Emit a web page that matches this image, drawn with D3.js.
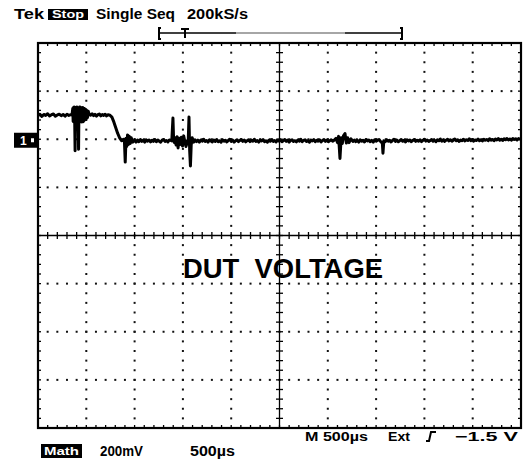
<!DOCTYPE html>
<html>
<head>
<meta charset="utf-8">
<script src="https://cdn.jsdelivr.net/npm/d3@7"></script>
<style>
  html, body { margin: 0; padding: 0; background: #fff; }
  svg { display: block; }
  text { font-family: "Liberation Sans", Arial, sans-serif; }
</style>
</head>
<body>
<svg id="scope"></svg>
<script>
// screen setup: 500 us/div horizontally, 200 mV/div vertically
const timeDomainUs = [0, 5000];
const voltDomainMv = [-1200, 400];
const majorTimeStep = 500, minorTimeStep = 100;
const majorVoltStep = 200, minorVoltStep = 40;

// captured trace, [time us, mV]
const trace = [
  [0,98],[20,104],[40,95],[60,103],[80,99],[100,106],[120,97],[140,102],[160,105],[180,96],[200,101],[220,104],[240,98],
  [260,103],[280,96],[300,104],[320,99],[340,102],[352,100],
  [360,128],[364,74],[368,132],[372,72],[376,134],[380,76],[384,-48],[388,118],[392,70],[396,133],[400,74],[404,134],
  [408,71],[412,130],[416,75],[420,-42],[424,131],[428,72],[432,134],[436,73],[440,133],[444,76],[448,131],[452,72],
  [456,130],[460,74],[464,132],[468,73],[472,129],[476,77],[480,128],[484,80],[488,126],[492,82],[496,124],[500,86],
  [506,120],[512,90],[520,116],[530,104],[545,100],
  [560,106],[575,98],[590,104],[605,96],[620,102],[635,105],[650,97],[665,103],[680,99],[695,104],[710,97],[725,102],[745,100],
  [765,92],[785,72],[805,48],[825,24],[845,6],[865,-6],[885,0],
  [895,-12],[903,-95],[911,4],[919,-30],[927,18],[935,-22],[945,12],[955,-18],[965,6],[980,-12],[1000,-4],
  [1015,-12],[1030,-3],[1045,-10],[1060,-1],[1075,-9],[1090,-4],[1105,-12],[1120,-2],[1135,-8],[1150,-3],[1165,-11],[1180,-4],
  [1195,-9],[1210,-1],[1225,-10],[1240,-3],[1255,-8],[1270,-12],[1285,-4],[1300,-1],[1315,-9],[1330,-5],[1345,-11],[1360,-3],[1385,-7],
  [1397,88],[1404,-4],[1412,-14],[1420,6],[1430,-24],[1440,10],[1450,-36],[1460,4],[1472,-22],[1484,8],[1496,-28],[1508,14],
  [1520,-10],[1532,-30],[1544,-6],[1554,-20],[1563,92],[1570,-46],[1578,-111],[1586,-24],[1596,6],[1610,-12],[1625,-2],
  [1640,-10],[1655,-4],[1670,-12],[1685,-3],[1700,-8],[1715,0],[1730,-9],[1745,-5],[1760,-12],[1775,-2],[1790,-7],[1805,-11],
  [1820,-3],[1835,-9],[1850,-1],[1865,-10],[1880,-6],[1895,-12],[1910,-2],[1925,-8],[1940,-4],[1955,-11],[1970,-5],[1985,0],
  [2000,-9],[2015,-4],[2030,-12],[2045,-6],[2060,-2],[2075,-10],[2090,-5],[2105,-1],[2120,-9],[2135,-3],[2150,-11],[2165,-6],
  [2180,-2],[2195,-10],[2210,-4],[2225,-8],[2240,0],[2255,-9],[2270,-5],[2285,-12],[2300,-3],[2315,-7],[2330,-1],[2345,-10],
  [2360,-6],[2375,-12],[2390,-4],[2405,-8],[2420,-1],[2435,-9],[2450,-5],[2465,-11],[2480,-3],[2495,-8],[2510,-2],[2525,-10],
  [2540,-6],[2555,-1],[2570,-9],[2585,-4],[2600,-12],[2615,-5],[2630,-2],[2645,-9],[2660,-6],[2675,-11],[2690,-3],[2705,-8],
  [2720,0],[2735,-10],[2750,-5],[2765,-2],[2780,-9],[2795,-6],[2810,-12],[2825,-3],[2840,-7],[2855,-1],[2870,-10],[2885,-4],
  [2900,-8],[2915,-2],[2930,-11],[2945,-5],[2960,-1],[2975,-9],[2990,-4],[3005,-10],[3020,-6],[3035,-2],[3050,-8],[3065,-4],
  [3085,4],[3100,-14],[3112,12],[3126,-80],[3138,6],[3150,-18],[3162,14],[3178,24],[3192,-16],[3205,6],[3220,-14],[3240,2],[3260,-9],
  [3275,-3],[3290,-10],[3305,-5],[3320,-12],[3335,-2],[3350,-8],[3365,-4],[3380,-11],[3395,-1],[3410,-7],[3425,-3],[3440,-10],
  [3455,-5],[3470,-12],[3485,-2],[3500,-8],[3515,-4],[3530,-1],
  [3545,-9],[3555,-12],[3565,-18],[3571,-58],[3580,-6],[3595,-10],
  [3610,-2],[3625,-8],[3640,-4],[3655,-11],[3670,-5],[3685,0],[3700,-9],[3715,-3],[3730,-10],[3745,-6],[3760,-1],[3775,-8],
  [3790,-4],[3805,-11],[3820,-2],[3835,-7],[3850,-3],[3865,-10],[3880,-5],[3895,-1],[3910,-9],[3925,-4],[3940,-8],[3955,-2],
  [3970,-10],[3985,-5],[4000,0],[4015,-8],[4030,-3],[4045,-9],[4060,-5],[4075,-1],[4090,-8],[4105,-4],[4120,-10],[4135,-2],
  [4150,-6],[4165,1],[4180,-8],[4195,-3],[4210,-9],[4225,-4],[4240,0],[4255,-7],[4270,-2],[4285,-8],[4300,-4],[4315,1],
  [4330,-6],[4345,-2],[4360,-9],[4375,-3],[4390,-6],[4405,0],[4420,-7],[4435,-2],[4450,-5],[4465,2],[4480,-6],[4495,-1],
  [4510,-8],[4525,-3],[4540,-5],[4555,1],[4570,-6],[4585,-2],[4600,-7],[4615,0],[4630,-4],[4645,-1],[4660,-6],[4675,2],
  [4690,-4],[4705,-1],[4720,-6],[4735,1],[4750,-3],[4765,3],[4780,-4],[4795,0],[4810,-5],[4825,2],[4840,-2],[4855,3],
  [4870,-3],[4885,1],[4900,-4],[4915,3],[4930,-1],[4945,2],[4960,-3],[4975,3],[4990,0],[5000,1]
];

// readouts
const headerLabels = ["Tek", "Stop", "Single Seq", "200kS/s"];
const footerLabels = ["M 500\u00b5s", "Ext", "\u22121.5 V"];
const channelLabels = ["Math", "200mV", "500\u00b5s"];
const waveTitle = "DUT  VOLTAGE";

const W = 525, H = 459;
const svg = d3.select("#scope").attr("width", W).attr("height", H);

const x = d3.scaleLinear().domain(timeDomainUs).range([38, 521]);
const y = d3.scaleLinear().domain(voltDomainMv).range([428, 43]);

const majorT = d3.range(timeDomainUs[0], timeDomainUs[1] + 1, majorTimeStep);
const minorT = d3.range(timeDomainUs[0], timeDomainUs[1] + 1, minorTimeStep);
const majorV = d3.range(voltDomainMv[0], voltDomainMv[1] + 1, majorVoltStep);
const minorV = d3.range(voltDomainMv[0], voltDomainMv[1] + 1, minorVoltStep);
const centerT = (timeDomainUs[0] + timeDomainUs[1]) / 2;
const centerV = (voltDomainMv[0] + voltDomainMv[1]) / 2;

const grid = svg.append("g");

// dotted graticule
let dots = [];
majorT.slice(1, -1).filter(t => t !== centerT).forEach(t => {
  minorV.slice(1, -1).forEach(v => dots.push([x(t), y(v)]));
});
majorV.slice(1, -1).filter(v => v !== centerV).forEach(v => {
  minorT.slice(1, -1).forEach(t => dots.push([x(t), y(v)]));
});
grid.selectAll("rect.dot").data(dots).join("rect")
  .attr("class", "dot")
  .attr("x", d => d[0] - 1).attr("y", d => d[1] - 1)
  .attr("width", 2).attr("height", 2)
  .attr("fill", "#111");

// center axes with minor ticks
grid.append("line")
  .attr("x1", x(centerT)).attr("x2", x(centerT))
  .attr("y1", y(voltDomainMv[1])).attr("y2", y(voltDomainMv[0]))
  .attr("stroke", "#000").attr("stroke-width", 1.3);
grid.append("line")
  .attr("x1", x(timeDomainUs[0])).attr("x2", x(timeDomainUs[1]))
  .attr("y1", y(centerV)).attr("y2", y(centerV))
  .attr("stroke", "#000").attr("stroke-width", 1.3);
grid.selectAll("line.vtick").data(minorV).join("line")
  .attr("class", "vtick")
  .attr("x1", x(centerT) - 3.5).attr("x2", x(centerT) + 3.5)
  .attr("y1", d => y(d)).attr("y2", d => y(d))
  .attr("stroke", "#000").attr("stroke-width", 1.3);
grid.selectAll("line.htick").data(minorT).join("line")
  .attr("class", "htick")
  .attr("y1", y(centerV) - 3.5).attr("y2", y(centerV) + 3.5)
  .attr("x1", d => x(d)).attr("x2", d => x(d))
  .attr("stroke", "#000").attr("stroke-width", 1.3);

// edge ticks
const edgeTicks = [];
minorT.forEach(t => {
  edgeTicks.push([x(t), y(voltDomainMv[1]), x(t), y(voltDomainMv[1]) + 3]);
  edgeTicks.push([x(t), y(voltDomainMv[0]), x(t), y(voltDomainMv[0]) - 3]);
});
minorV.forEach(v => {
  edgeTicks.push([x(timeDomainUs[0]), y(v), x(timeDomainUs[0]) + 3, y(v)]);
  edgeTicks.push([x(timeDomainUs[1]), y(v), x(timeDomainUs[1]) - 3, y(v)]);
});
grid.selectAll("line.etick").data(edgeTicks).join("line")
  .attr("class", "etick")
  .attr("x1", d => d[0]).attr("y1", d => d[1]).attr("x2", d => d[2]).attr("y2", d => d[3])
  .attr("stroke", "#000").attr("stroke-width", 1.3);

// frame
grid.append("rect")
  .attr("x", x(timeDomainUs[0])).attr("y", y(voltDomainMv[1]))
  .attr("width", x(timeDomainUs[1]) - x(timeDomainUs[0]))
  .attr("height", y(voltDomainMv[0]) - y(voltDomainMv[1]))
  .attr("fill", "none").attr("stroke", "#000").attr("stroke-width", 2.2);

// waveform label
svg.append("text")
  .attr("x", 183).attr("y", 278)
  .attr("font-size", 28).attr("font-weight", "bold")
  .attr("textLength", 200).attr("lengthAdjust", "spacingAndGlyphs")
  .style("white-space", "pre")
  .text(waveTitle);

// trace
const line = d3.line().x(d => x(d[0])).y(d => y(d[1]));
svg.append("path")
  .datum(trace)
  .attr("d", line)
  .attr("fill", "none")
  .attr("stroke", "#000")
  .attr("stroke-width", 3)
  .attr("stroke-linejoin", "round");

// ground marker
const gm = svg.append("g");
gm.append("rect").attr("x", 14).attr("y", y(0) - 6.5).attr("width", 23).attr("height", 15).attr("fill", "#000");
gm.append("text").attr("x", 20).attr("y", y(0) + 6).attr("font-size", 12).attr("font-weight", "bold")
  .attr("fill", "#fff").text("1");
gm.append("rect").attr("x", 31).attr("y", y(0) - 1).attr("width", 3).attr("height", 4).attr("fill", "#fff");

// header
const head = svg.append("g").attr("font-weight", "bold");
head.append("text").attr("x", 14).attr("y", 19).attr("font-size", 15)
  .attr("textLength", 30).attr("lengthAdjust", "spacingAndGlyphs").attr("font-weight", 900).text(headerLabels[0]);
head.append("rect").attr("x", 48).attr("y", 9).attr("width", 40).attr("height", 11).attr("fill", "#000");
head.append("text").attr("x", 52).attr("y", 18).attr("font-size", 10).attr("fill", "#fff")
  .attr("textLength", 32).attr("lengthAdjust", "spacingAndGlyphs").text(headerLabels[1]);
head.append("text").attr("x", 96).attr("y", 19).attr("font-size", 14)
  .attr("textLength", 79).attr("lengthAdjust", "spacingAndGlyphs").text(headerLabels[2]);
head.append("text").attr("x", 187).attr("y", 19).attr("font-size", 14)
  .attr("textLength", 61).attr("lengthAdjust", "spacingAndGlyphs").text(headerLabels[3]);

// record / trigger position bar
const bar = svg.append("g").attr("fill", "none").attr("stroke-width", 2);
bar.append("path").attr("d", "M161,28 L159,28 L159,39 L161,39").attr("stroke", "#000");
bar.append("path").attr("d", "M400,28 L402,28 L402,39 L400,39").attr("stroke", "#000");
bar.append("line").attr("x1", 159).attr("x2", 236).attr("y1", 33).attr("y2", 33).attr("stroke", "#000").attr("stroke-width", 1.6);
bar.append("line").attr("x1", 236).attr("x2", 345).attr("y1", 33).attr("y2", 33).attr("stroke", "#888").attr("stroke-width", 1.4);
bar.append("line").attr("x1", 345).attr("x2", 402).attr("y1", 33).attr("y2", 33).attr("stroke", "#000").attr("stroke-width", 1.6);
bar.append("path").attr("d", "M181,29 L189,29 M185,29 L185,38").attr("stroke", "#000");

// footer
const foot = svg.append("g").attr("font-weight", "bold").attr("font-size", 13);
foot.append("text").attr("x", 305).attr("y", 441).attr("textLength", 63).attr("lengthAdjust", "spacingAndGlyphs").text(footerLabels[0]);
foot.append("text").attr("x", 388).attr("y", 441).attr("textLength", 22).attr("lengthAdjust", "spacingAndGlyphs").text(footerLabels[1]);
foot.append("path").attr("d", "M426,441 L429,441 L431,432 L436,432").attr("fill", "none").attr("stroke", "#000").attr("stroke-width", 2);
foot.append("text").attr("x", 455).attr("y", 441).attr("textLength", 63).attr("lengthAdjust", "spacingAndGlyphs").text(footerLabels[2]);

foot.append("rect").attr("x", 41).attr("y", 444).attr("width", 41).attr("height", 14).attr("fill", "#000");
foot.append("text").attr("x", 44).attr("y", 455).attr("font-size", 10).attr("fill", "#fff")
  .attr("textLength", 35).attr("lengthAdjust", "spacingAndGlyphs").text(channelLabels[0]);
foot.append("text").attr("x", 100).attr("y", 456).attr("font-size", 14)
  .attr("textLength", 43).attr("lengthAdjust", "spacingAndGlyphs").text(channelLabels[1]);
foot.append("text").attr("x", 190).attr("y", 456).attr("font-size", 14)
  .attr("textLength", 45).attr("lengthAdjust", "spacingAndGlyphs").text(channelLabels[2]);
</script>
</body>
</html>
